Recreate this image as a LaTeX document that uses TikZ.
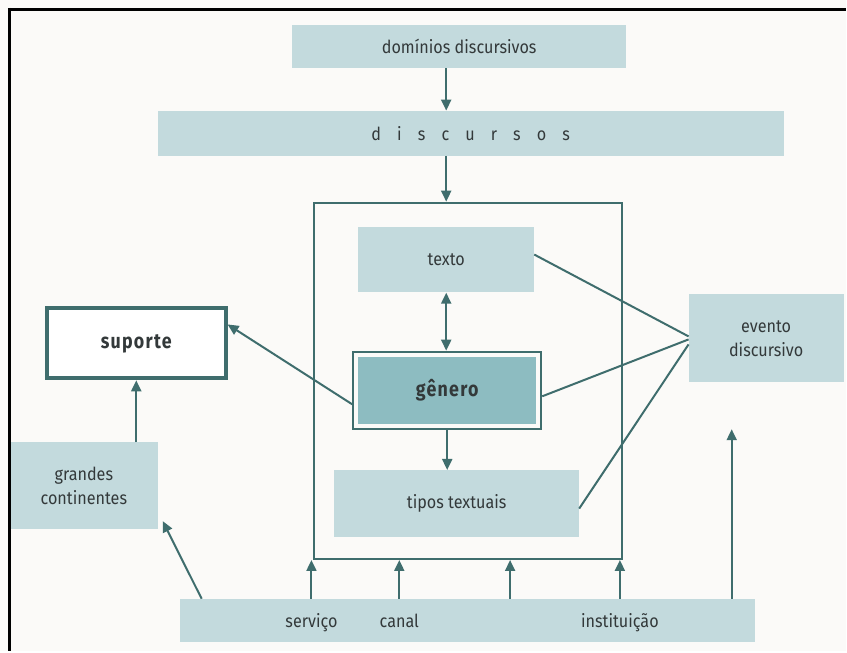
\documentclass[tikz,border=0pt]{standalone}
\usepackage{fontspec}
\setmainfont{Fira Sans}[FakeStretch=0.9]
\newfontfamily\spacedfont{Fira Sans}[FakeStretch=0.9,LetterSpace=90]
\newfontfamily\heavyfont{Fira Sans}[FakeStretch=0.85,LetterSpace=6]
\usetikzlibrary{arrows.meta,fit}

\definecolor{paper}{HTML}{FBFAF8}
\definecolor{boxfill}{HTML}{C3DADD}
\definecolor{darkfill}{HTML}{8DBCC1}
\definecolor{linecol}{HTML}{3F6D6D}
\definecolor{txtcol}{HTML}{33393A}

\begin{document}
\begin{tikzpicture}[
    x=1pt, y=-1pt,
    >={Triangle[length=11pt,width=10pt]},
    conn/.style={draw=linecol, line width=2pt},
    labeltext/.style={text=txtcol, inner sep=0pt, font=\fontsize{18pt}{24pt}\selectfont, align=center},
    lightbox/.style={labeltext, fill=boxfill},
    framebox/.style={draw=linecol, line width=2pt, inner sep=0pt},
    darkbox/.style={labeltext, fill=darkfill, font=\heavyfont\bfseries\fontsize{21pt}{24pt}\selectfont},
    generoframe/.style={draw=linecol, line width=2pt, inner sep=5pt},
    suportebox/.style={labeltext, draw=linecol, line width=4pt, fill=white, font=\heavyfont\bfseries\fontsize{21pt}{24pt}\selectfont},
    barlabel/.style={labeltext, anchor=base}
    ]
    % page and scan edge
    \fill[paper] (0,0) rectangle (847,652);

    \node[framebox, minimum width=308pt, minimum height=357pt] (frame) at (469,381.5) {};

    \node[lightbox, minimum width=334pt, minimum height=43pt] (dominios) at (460,46.5) {domínios discursivos};
    \node[lightbox, minimum width=627pt, minimum height=45pt, font=\spacedfont\fontsize{18pt}{24pt}\selectfont] (discursos) at (471.5,133.5) {discursos};
    \node[lightbox, minimum width=176pt, minimum height=66pt] (texto) at (447,260) {texto};
    \node[darkbox, minimum width=178pt, minimum height=67pt] (generofill) at (448,391) {gênero};
    \node[generoframe, fit=(generofill)] (genero) {};
    \node[lightbox, minimum width=245pt, minimum height=67pt] (tipos) at (457.5,504.5) {tipos textuais};
    \node[lightbox, minimum width=155pt, minimum height=88pt] (evento) at (767.5,339) {evento\\discursivo};
    \node[suportebox, minimum width=179pt, minimum height=70pt] (suporte) at (136.5,344) {suporte};
    \node[lightbox, minimum width=148pt, minimum height=87pt] (grandes) at (84,486.5) {grandes\\continentes};
    \node[lightbox, minimum width=576pt, minimum height=43pt] (canais) at (468,621.5) {};

    % labels on the bottom bar
    \node[barlabel] (servico) at (312,629) {serviço};
    \node[barlabel] (canal) at (400,629) {canal};
    \node[barlabel] (instituicao) at (621,629) {instituição};
    \coordinate (col3) at (511,0);
    \coordinate (col5) at (733,430);
    \coordinate (col0) at (202,0);
    \coordinate (tip0) at (163,522);

    % vertical chain
    \draw[conn,->] (dominios.south -| texto) -- (discursos.north -| texto);
    \draw[conn,->] (discursos.south -| texto) -- (frame.north -| texto);
    \draw[conn,<->] (texto.south) -- (genero.north -| texto);
    \draw[conn,->] (genero.south) -- (tipos.north -| genero);

    % left side
    \draw[conn,->] ([yshift=-14pt]genero.west) -- ([yshift=19pt]suporte.east);
    \draw[conn,->] (grandes.north -| suporte) -- (suporte.south);
    \draw[conn,->] (canais.north -| col0) -- (tip0);

    % lines to evento discursivo
    \draw[conn] ([yshift=5pt]texto.east) -- ([yshift=2pt]evento.west);
    \draw[conn] ([yshift=-6pt]genero.east) -- ([yshift=-1pt]evento.west);
    \draw[conn] ([yshift=-5pt]tipos.east) -- ([yshift=-6pt]evento.west);

    % arrows up from the bottom bar
    \draw[conn,->] (canais.north -| servico) -- (frame.south -| servico);
    \draw[conn,->] (canais.north -| canal) -- (frame.south -| canal);
    \draw[conn,->] (canais.north -| col3) -- (frame.south -| col3);
    \draw[conn,->] (canais.north -| instituicao) -- (frame.south -| instituicao);
    \draw[conn,->] (canais.north -| col5) -- (col5);

    \draw[black, line width=3pt] (8,10) -- (847,10) (10,8) -- (10,652);
\end{tikzpicture}
\end{document}
